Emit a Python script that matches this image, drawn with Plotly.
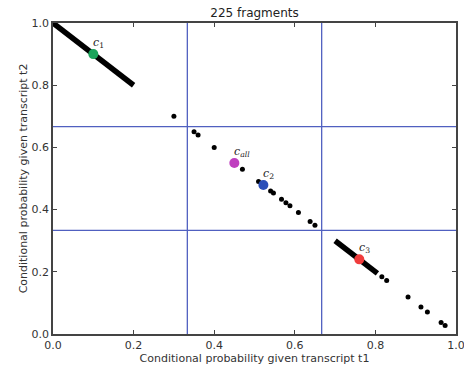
import plotly.graph_objects as go

# Dense fragment runs (drawn as thick segments): endpoints
seg1_x = [0.0, 0.2]
seg1_y = [1.0, 0.8]
seg3_x = [0.70, 0.805]
seg3_y = [0.30, 0.195]

# Individual fragments
frag_x = [0.30, 0.35, 0.36, 0.40, 0.47, 0.51, 0.54, 0.547, 0.567, 0.578, 0.588, 0.609, 0.638, 0.65,
          0.816, 0.828, 0.881, 0.913, 0.929, 0.963, 0.973]
frag_y = [0.70, 0.65, 0.64, 0.60, 0.53, 0.49, 0.46, 0.453, 0.433, 0.422, 0.412, 0.391, 0.362, 0.35,
          0.184, 0.172, 0.119, 0.087, 0.071, 0.037, 0.027]

# Cluster centres
cent_names = ["<i>c</i><sub>1</sub>", "<i>c</i><sub><i>all</i></sub>", "<i>c</i><sub>2</sub>", "<i>c</i><sub>3</sub>"]
cent_x = [0.10, 0.45, 0.522, 0.76]
cent_y = [0.90, 0.55, 0.479, 0.24]
cent_colors = ["#1aa35a", "#bf3fbf", "#2b4fb8", "#f03c3c"]

thresholds = [1/3, 2/3]
ticks = [0.0, 0.2, 0.4, 0.6, 0.8, 1.0]

fig = go.Figure()
for sx, sy in [(seg1_x, seg1_y), (seg3_x, seg3_y)]:
    fig.add_trace(go.Scatter(x=sx, y=sy, mode="lines", line=dict(color="black", width=5.5),
                             showlegend=False, hoverinfo="skip"))
fig.add_trace(go.Scatter(x=frag_x, y=frag_y, mode="markers",
                         marker=dict(color="black", size=5), showlegend=False))
fig.add_trace(go.Scatter(x=cent_x, y=cent_y, mode="markers",
                         marker=dict(color=cent_colors, size=10), showlegend=False))

for name, cx, cy in zip(cent_names, cent_x, cent_y):
    fig.add_annotation(x=cx, y=cy, text=name, showarrow=False, xanchor="left", yanchor="bottom",
                       xshift=-2, yshift=2,
                       font=dict(family="DejaVu Serif", size=11, color="#222"))

for t in thresholds:
    fig.add_shape(type="line", x0=t, x1=t, y0=0, y1=1, xref="x", yref="y",
                  line=dict(color="#5060c0", width=1.3), layer="below")
    fig.add_shape(type="line", x0=0, x1=1, y0=t, y1=t, xref="x", yref="y",
                  line=dict(color="#5060c0", width=1.3), layer="below")

axis_common = dict(range=[0, 1], tickvals=ticks, ticktext=[f"{v:.1f}" for v in ticks],
                   ticks="inside", ticklen=4, tickcolor="#444", showline=True, linecolor="#444",
                   linewidth=1.5, mirror="ticks", showgrid=False, zeroline=False, automargin=False,
                   ticklabeloverflow="allow",
                   tickfont=dict(family="DejaVu Sans", size=11, color="#333"))

fig.update_layout(
    width=464, height=370,
    margin=dict(l=53, r=8, t=23, b=36, autoexpand=False),
    paper_bgcolor="white", plot_bgcolor="white",
    title=dict(text="225 fragments", xref="paper", x=0.5, xanchor="center", y=0.977, yanchor="top",
               font=dict(family="DejaVu Sans", size=12, color="#222")),
    xaxis=dict(axis_common, title=dict(text="Conditional probability given transcript t1",
                                       font=dict(family="DejaVu Sans", size=11, color="#333"), standoff=2)),
    yaxis=dict(axis_common, title=dict(text="Conditional probability given transcript t2",
                                       font=dict(family="DejaVu Sans", size=11, color="#333"), standoff=2)),
)
fig.write_html("out.html", config={"displayModeBar": False},
               post_script="document.body.style.margin='0';")
